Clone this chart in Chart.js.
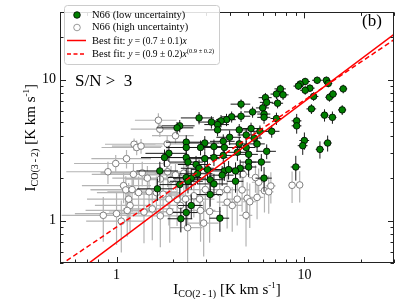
<!DOCTYPE html>
<html>
<head>
<meta charset="utf-8">
<script src="https://cdn.jsdelivr.net/npm/chart.js@4.4.1/dist/chart.umd.min.js"></script>
<style>
    html, body { margin: 0; padding: 0; background: #fff; }
</style>
</head>
<body>
<canvas id="chart" width="399" height="299"></canvas>
<script>
// N66, CO(3-2) vs CO(2-1) integrated intensity
// rows: [I_CO(2-1), I_CO(3-2), fractional err x, fractional err y]
const lowUncertainty = [
    [11.7, 9.9, 0.06, 0.06], [13.1, 9.9, 0.05, 0.06], [13.4, 9.4, 0.05, 0.06], [16.1, 8.6, 0.05, 0.07],
    [10.1, 9.7, 0.06, 0.06], [9.5, 9.3, 0.06, 0.06], [9.3, 9.0, 0.06, 0.06], [10.7, 8.7, 0.06, 0.06],
    [10.1, 8.4, 0.06, 0.07], [11.2, 7.6, 0.06, 0.07], [13.6, 7.5, 0.05, 0.07], [14.2, 7.9, 0.05, 0.07],
    [7.45, 8.6, 0.07, 0.07], [7.1, 7.9, 0.07, 0.08], [7.7, 7.8, 0.07, 0.08], [6.2, 7.45, 0.08, 0.08],
    [6.3, 6.9, 0.08, 0.08], [7.2, 6.8, 0.07, 0.08], [6.0, 6.3, 0.08, 0.09], [6.1, 5.7, 0.08, 0.09],
    [6.1, 5.4, 0.08, 0.1], [10.9, 6.2, 0.06, 0.08], [15.9, 6.1, 0.05, 0.08], [12.8, 5.6, 0.05, 0.1],
    [14.1, 5.4, 0.05, 0.1], [7.1, 5.3, 0.07, 0.1], [9.1, 5.1, 0.06, 0.12], [9.1, 4.7, 0.06, 0.12],
    [6.7, 4.3, 0.1, 0.1], [10.0, 3.7, 0.06, 0.14], [9.8, 3.4, 0.06, 0.14], [13.3, 3.55, 0.05, 0.13],
    [12.1, 3.2, 0.05, 0.14], [6.3, 3.1, 0.12, 0.12], [5.9, 2.6, 0.12, 0.14], [9.0, 2.4, 0.06, 0.2],
    [6.1, 2.0, 0.1, 0.2], [4.6, 6.7, 0.12, 0.08], [5.3, 5.9, 0.1, 0.09], [4.6, 5.5, 0.12, 0.09],
    [4.1, 5.45, 0.12, 0.09], [3.85, 5.2, 0.12, 0.1], [3.6, 5.1, 0.12, 0.1], [3.45, 4.8, 0.15, 0.1],
    [3.2, 5.0, 0.15, 0.1], [3.45, 4.4, 0.15, 0.1], [2.75, 5.35, 0.2, 0.1], [2.17, 4.7, 0.2, 0.1],
    [2.1, 4.55, 0.22, 0.1], [4.5, 4.4, 0.12, 0.1], [5.2, 4.5, 0.1, 0.1], [5.8, 4.3, 0.1, 0.1],
    [4.0, 3.9, 0.15, 0.12], [3.7, 3.65, 0.15, 0.12], [3.3, 3.35, 0.18, 0.12], [2.95, 3.55, 0.2, 0.12],
    [2.8, 3.3, 0.2, 0.12], [2.35, 3.6, 0.22, 0.12], [2.35, 3.3, 0.22, 0.12], [3.75, 3.3, 0.15, 0.12],
    [4.5, 3.5, 0.12, 0.12], [4.9, 3.3, 0.12, 0.12], [5.6, 3.5, 0.1, 0.12], [5.05, 2.95, 0.12, 0.13],
    [4.4, 3.05, 0.12, 0.13], [3.7, 2.9, 0.15, 0.13], [3.3, 2.8, 0.18, 0.13], [2.95, 2.75, 0.2, 0.13],
    [1.9, 3.0, 0.25, 0.13], [1.8, 2.8, 0.25, 0.14], [2.35, 2.8, 0.22, 0.14], [5.05, 2.6, 0.1, 0.14],
    [5.05, 2.4, 0.1, 0.15], [4.55, 2.35, 0.12, 0.15], [4.3, 2.25, 0.12, 0.15], [3.75, 2.25, 0.15, 0.15],
    [3.95, 2.3, 0.15, 0.15], [3.65, 2.1, 0.15, 0.16], [2.65, 2.5, 0.2, 0.15], [2.75, 2.35, 0.2, 0.15],
    [3.05, 2.3, 0.18, 0.15], [3.15, 1.95, 0.18, 0.17], [3.3, 1.82, 0.18, 0.18], [2.35, 2.02, 0.2, 0.17],
    [2.5, 2.0, 0.2, 0.17], [2.4, 1.9, 0.2, 0.18], [1.7, 2.25, 0.25, 0.16], [2.4, 2.6, 0.2, 0.14],
    [2.7, 2.15, 0.2, 0.16], [2.17, 1.8, 0.22, 0.18], [1.65, 1.68, 0.22, 0.18], [3.15, 1.53, 0.15, 0.18],
    [2.5, 1.28, 0.15, 0.2], [2.35, 1.14, 0.15, 0.2], [2.2, 1.03, 0.15, 0.2], [3.55, 1.04, 0.12, 0.2],
    [4.3, 1.9, 0.1, 0.17], [5.4, 3.85, 0.1, 0.12], [4.9, 4.05, 0.1, 0.12]
];

const highUncertainty = [
    [1.67, 5.15, 0.25, 0.12], [1.7, 4.45, 0.3, 0.12], [2.06, 4.0, 0.25, 0.12], [1.24, 3.48, 0.3, 0.1],
    [1.28, 3.3, 0.35, 0.12], [1.35, 3.38, 0.3, 0.12], [1.86, 3.5, 0.3, 0.15], [1.13, 2.75, 0.35, 0.15],
    [0.99, 2.54, 0.4, 0.15], [0.9, 2.22, 0.4, 0.18], [1.23, 2.13, 0.4, 0.2], [1.37, 2.18, 0.4, 0.2],
    [1.46, 2.0, 0.35, 0.22], [1.09, 1.77, 0.4, 0.25], [1.12, 1.65, 0.35, 0.25], [1.49, 1.6, 0.4, 0.25],
    [1.71, 1.97, 0.35, 0.25], [1.85, 2.54, 0.3, 0.2], [1.87, 2.22, 0.35, 0.22], [1.95, 1.95, 0.3, 0.25],
    [2.06, 2.11, 0.3, 0.22], [2.28, 2.17, 0.3, 0.25], [1.21, 1.66, 0.4, 0.3], [1.31, 1.58, 0.4, 0.3],
    [1.63, 1.58, 0.35, 0.3], [1.77, 1.54, 0.3, 0.3], [1.9, 1.42, 0.3, 0.35], [2.1, 1.41, 0.3, 0.35],
    [2.19, 1.28, 0.25, 0.35], [2.33, 1.42, 0.25, 0.35], [2.58, 1.5, 0.25, 0.3], [2.77, 1.42, 0.2, 0.35],
    [1.16, 1.42, 0.4, 0.3], [1.18, 1.28, 0.35, 0.35], [1.14, 1.18, 0.4, 0.35], [0.85, 1.09, 0.4, 0.35],
    [1.0, 1.12, 0.4, 0.4], [1.06, 0.99, 0.35, 0.4], [1.4, 1.15, 0.35, 0.4], [1.55, 1.21, 0.3, 0.4],
    [1.71, 1.08, 0.3, 0.4], [1.92, 1.16, 0.3, 0.4], [2.8, 1.18, 0.2, 0.4], [2.91, 0.96, 0.2, 0.42],
    [2.39, 0.89, 0.2, 0.45], [3.88, 1.35, 0.12, 0.35], [4.13, 1.28, 0.12, 0.35], [4.39, 1.42, 0.12, 0.35],
    [3.54, 1.58, 0.15, 0.3], [3.88, 1.66, 0.12, 0.3], [2.97, 1.66, 0.2, 0.3], [4.96, 1.44, 0.08, 0.3],
    [5.12, 1.36, 0.08, 0.35], [5.6, 1.46, 0.08, 0.3], [4.89, 1.09, 0.08, 0.4], [3.13, 1.16, 0.15, 0.4],
    [4.66, 1.65, 0.1, 0.3], [5.71, 1.87, 0.08, 0.25], [6.13, 1.63, 0.06, 0.3], [6.46, 1.6, 0.06, 0.3],
    [6.63, 1.76, 0.06, 0.25], [4.72, 2.13, 0.08, 0.22], [8.6, 1.78, 0.04, 0.25], [9.44, 1.79, 0.04, 0.25],
    [5.49, 2.02, 0.08, 0.22]
];

// best fits: y = a * x^b
const fitLinear = { a: 0.7, b: 1 };
const fitPower = { a: 0.9, b: 0.9 };

const axisMin = 0.5;
const axisMax = 30;
const tickValues = [0.5, 0.6, 0.7, 0.8, 0.9, 1, 2, 3, 4, 5, 6, 7, 8, 9, 10, 20, 30];
const majorTicks = [1, 10];

const SERIF = '"Liberation Serif", "Times New Roman", serif';
const GREEN = '#008000';

const toPoints = rows => rows.map(r => ({ x: r[0], y: r[1] }));
const toErrors = rows => rows.map(r => [r[2], r[3]]);
const fitLine = f => [axisMin, axisMax].map(x => ({ x: x, y: f.a * Math.pow(x, f.b) }));

// error bars, drawn under each dataset's markers
const errorBars = {
    id: 'errorBars',
    beforeDatasetDraw(chart, args) {
        const ds = chart.data.datasets[args.index];
        if (!ds.errors) return;
        const { ctx, chartArea: a, scales: { x, y } } = chart;
        ctx.save();
        ctx.beginPath();
        ctx.rect(a.left, a.top, a.right - a.left, a.bottom - a.top);
        ctx.clip();
        ctx.strokeStyle = ds.errorColor;
        ctx.lineWidth = ds.errorWidth;
        ctx.beginPath();
        ds.data.forEach((p, i) => {
            const [fx, fy] = ds.errors[i];
            const px = x.getPixelForValue(p.x);
            const py = y.getPixelForValue(p.y);
            ctx.moveTo(x.getPixelForValue(p.x * (1 - fx)), py);
            ctx.lineTo(x.getPixelForValue(p.x * (1 + fx)), py);
            ctx.moveTo(px, y.getPixelForValue(p.y * (1 - fy)));
            ctx.lineTo(px, y.getPixelForValue(p.y * (1 + fy)));
        });
        ctx.stroke();
        ctx.restore();
    }
};

// text runs: [text, size, dy, italic]
function drawRuns(ctx, runs, x, y, align) {
    let w = 0;
    runs.forEach(r => {
        ctx.font = (r[3] ? 'italic ' : '') + r[1] + 'px ' + SERIF;
        w += ctx.measureText(r[0]).width;
    });
    let cx = align === 'center' ? x - w / 2 : x;
    runs.forEach(r => {
        ctx.font = (r[3] ? 'italic ' : '') + r[1] + 'px ' + SERIF;
        ctx.fillText(r[0], cx, y + (r[2] || 0));
        cx += ctx.measureText(r[0]).width;
    });
}

// frame, inward ticks, labels and legend
const decorations = {
    id: 'decorations',
    afterDraw(chart) {
        const { ctx, chartArea: a, scales: { x, y } } = chart;
        ctx.save();
        ctx.strokeStyle = '#222';
        ctx.lineWidth = 1;
        ctx.strokeRect(Math.round(a.left) + 0.5, Math.round(a.top) + 0.5,
            Math.round(a.right - a.left) - 1, Math.round(a.bottom - a.top) - 1);

        ctx.beginPath();
        tickValues.forEach(v => {
            const len = majorTicks.includes(v) ? 6 : 3.5;
            const px = Math.round(x.getPixelForValue(v)) + 0.5;
            ctx.moveTo(px, a.bottom); ctx.lineTo(px, a.bottom - len);
            ctx.moveTo(px, a.top); ctx.lineTo(px, a.top + len);
            const py = Math.round(y.getPixelForValue(v)) + 0.5;
            ctx.moveTo(a.left, py); ctx.lineTo(a.left + len, py);
            ctx.moveTo(a.right, py); ctx.lineTo(a.right - len, py);
        });
        ctx.stroke();

        ctx.fillStyle = '#000';
        ctx.textBaseline = 'alphabetic';
        const cxA = (a.left + a.right) / 2;
        const cyA = (a.top + a.bottom) / 2;
        drawRuns(ctx, [['I', 15], ['CO(2\u2009-\u20091)', 10, 3], [' [K km s', 15], ['-1', 9, -6], [']', 15]],
            cxA, 294, 'center');
        ctx.save();
        ctx.translate(35, cyA);
        ctx.rotate(-Math.PI / 2);
        drawRuns(ctx, [['I', 15], ['CO(3\u2009-\u20092)', 10, 3], [' [K km s', 15], ['-1', 9, -6], [']', 15]],
            0, 0, 'center');
        ctx.restore();

        ctx.font = '17px ' + SERIF;
        ctx.textBaseline = 'middle';
        ctx.textAlign = 'left';
        ctx.fillText('(b)', 362, 22);
        ctx.fillText('S/N >  3', 75, 82);

        // legend
        ctx.fillStyle = 'rgba(255,255,255,0.85)';
        ctx.strokeStyle = '#cccccc';
        ctx.beginPath();
        ctx.roundRect(64.5, 5.5, 155, 59, 3);
        ctx.fill();
        ctx.stroke();

        ctx.lineWidth = 0.8;
        ctx.beginPath();
        ctx.arc(77, 15, 3.3, 0, Math.PI * 2);
        ctx.fillStyle = GREEN; ctx.fill();
        ctx.strokeStyle = '#000'; ctx.stroke();
        ctx.beginPath();
        ctx.arc(77, 27.5, 3.3, 0, Math.PI * 2);
        ctx.fillStyle = '#fff'; ctx.fill();
        ctx.strokeStyle = '#808080'; ctx.stroke();

        ctx.strokeStyle = '#ff0000';
        ctx.lineWidth = 1.5;
        ctx.beginPath(); ctx.moveTo(67, 40.5); ctx.lineTo(86, 40.5); ctx.stroke();
        ctx.setLineDash([4, 2.5]);
        ctx.beginPath(); ctx.moveTo(67, 54); ctx.lineTo(86, 54); ctx.stroke();
        ctx.setLineDash([]);

        ctx.fillStyle = '#000';
        ctx.font = '10.5px ' + SERIF;
        ctx.fillText('N66 (low uncertainty)', 92, 15);
        ctx.fillText('N66 (high uncertainty)', 92, 27.5);
        drawRuns(ctx, [['Best fit: ', 10.5], ['y', 9.5, 0, true], [' = (0.7 \u00b1 0.1)', 9.5], ['x', 9.5, 0, true]],
            92, 41, 'left');
        drawRuns(ctx, [['Best fit: ', 10.5], ['y', 9.5, 0, true], [' = (0.9 \u00b1 0.2)', 9.5], ['x', 9.5, 0, true],
            ['(0.9 \u00b1 0.2)', 6.5, -3]], 92, 54.5, 'left');
        ctx.restore();
    }
};

const logAxis = (fit) => ({
    type: 'logarithmic',
    min: axisMin,
    max: axisMax,
    afterBuildTicks: s => { s.ticks = tickValues.map(v => ({ value: v })); },
    afterFit: fit,
    grid: { display: false, drawTicks: false },
    border: { display: false },
    ticks: {
        autoSkip: false,
        maxRotation: 0,
        color: '#000',
        font: { family: SERIF, size: 14 },
        padding: 4,
        callback: v => majorTicks.includes(v) ? String(v) : ''
    }
});

new Chart(document.getElementById('chart'), {
    type: 'scatter',
    data: {
        datasets: [
            {
                label: 'Best fit linear',
                data: fitLine(fitLinear),
                showLine: true,
                borderColor: '#ff0000',
                borderWidth: 1.5,
                pointRadius: 0,
                order: 0
            },
            {
                label: 'Best fit power',
                data: fitLine(fitPower),
                showLine: true,
                borderColor: '#ff0000',
                borderWidth: 1.5,
                borderDash: [5, 3],
                pointRadius: 0,
                order: 0
            },
            {
                label: 'N66 (low uncertainty)',
                data: toPoints(lowUncertainty),
                errors: toErrors(lowUncertainty),
                errorColor: '#1a1a1a',
                errorWidth: 1,
                backgroundColor: GREEN,
                borderColor: '#000',
                borderWidth: 0.8,
                pointRadius: 3.3,
                order: 1
            },
            {
                label: 'N66 (high uncertainty)',
                data: toPoints(highUncertainty),
                errors: toErrors(highUncertainty),
                errorColor: '#b4b4b4',
                errorWidth: 1.2,
                backgroundColor: '#fff',
                borderColor: '#808080',
                borderWidth: 1,
                pointRadius: 3.3,
                order: 2
            }
        ]
    },
    options: {
        responsive: false,
        animation: false,
        devicePixelRatio: 1,
        layout: { padding: { left: 0, right: 3, top: 3, bottom: 0 } },
        plugins: { legend: { display: false }, tooltip: { enabled: false } },
        scales: {
            x: logAxis(s => { s.height = 36; }),
            y: logAxis(s => { s.width = 60; })
        }
    },
    plugins: [errorBars, decorations]
});
</script>
</body>
</html>
